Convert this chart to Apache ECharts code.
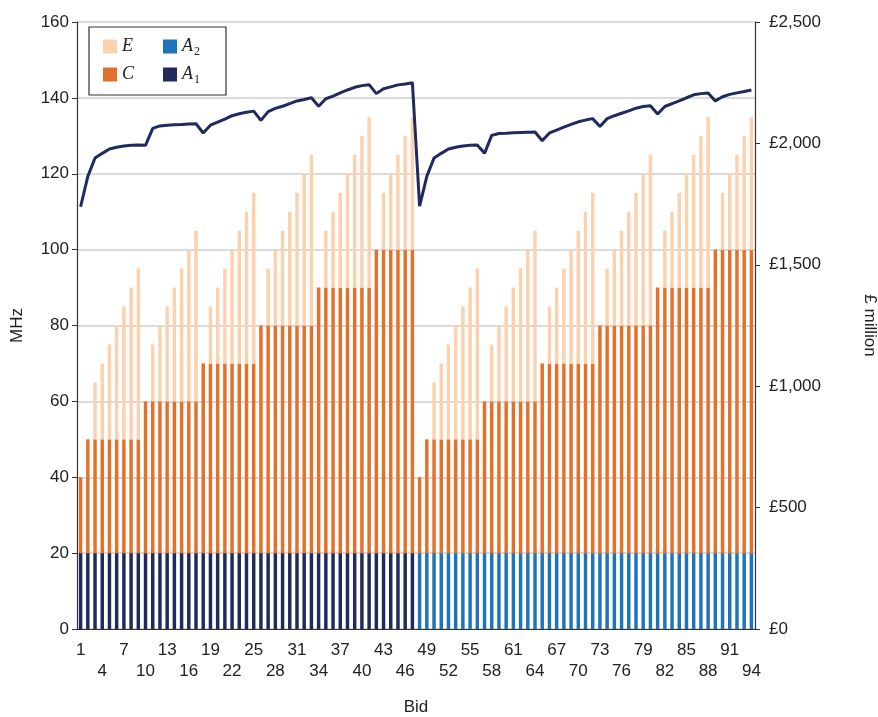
<!DOCTYPE html>
<html>
<head>
<meta charset="utf-8">
<script src="https://cdn.jsdelivr.net/npm/echarts@6/dist/echarts.min.js"></script>
<style>
    html, body { margin: 0; padding: 0; background: #fff; }
    #chart { width: 878px; height: 717px; }
</style>
</head>
<body>
<div id="chart"></div>
<script>
    // bids 1-47 use A1, bids 48-94 use A2
    const a1Values = [20,20,20,20,20,20,20,20,20,20,20,20,20,20,20,20,20,20,20,20,20,20,20,20,20,20,20,20,20,20,20,20,20,20,20,20,20,20,20,20,20,20,20,20,20,20,20]
    const a2Values = [20,20,20,20,20,20,20,20,20,20,20,20,20,20,20,20,20,20,20,20,20,20,20,20,20,20,20,20,20,20,20,20,20,20,20,20,20,20,20,20,20,20,20,20,20,20,20]
    const cValues = [
        20, 30,30,30,30,30,30,30,30, 40,40,40,40,40,40,40,40, 50,50,50,50,50,50,50,50,
        60,60,60,60,60,60,60,60, 70,70,70,70,70,70,70,70, 80,80,80,80,80,80,
        20, 30,30,30,30,30,30,30,30, 40,40,40,40,40,40,40,40, 50,50,50,50,50,50,50,50,
        60,60,60,60,60,60,60,60, 70,70,70,70,70,70,70,70, 80,80,80,80,80,80
    ]
    const eValues = [
        0, 0,15,20,25,30,35,40,45, 0,15,20,25,30,35,40,45, 0,15,20,25,30,35,40,45,
        0,15,20,25,30,35,40,45, 0,15,20,25,30,35,40,45, 0,15,20,25,30,35,
        0, 0,15,20,25,30,35,40,45, 0,15,20,25,30,35,40,45, 0,15,20,25,30,35,40,45,
        0,15,20,25,30,35,40,45, 0,15,20,25,30,35,40,45, 0,15,20,25,30,35
    ]
    // £ million
    const costValues = [
        1739,1864,1940,1959,1977,1984,1989,1992,1993,1992,
        2062,2072,2075,2077,2078,2080,2081,
        2043,2075,2088,2100,2114,2122,2128,2133,
        2095,2131,2144,2153,2164,2175,2181,2188,
        2153,2184,2195,2208,2220,2231,2238,2242,
        2205,2225,2233,2241,2245,2250,
        1742,1864,1940,1959,1977,1984,1989,1992,1993,
        1959,2033,2041,2042,2044,2045,2046,2047,
        2011,2043,2055,2067,2078,2089,2096,2102,
        2070,2102,2114,2124,2134,2145,2152,2155,
        2121,2152,2164,2175,2188,2200,2205,2208,
        2175,2192,2202,2208,2214,2220
    ]
    const bids = []
    for (let i = 1; i <= cValues.length; i++) bids.push(String(i))

    const a1Data = a1Values.concat(a2Values.map(() => '-'))
    const a2Data = a1Values.map(() => '-').concat(a2Values)

    const colE = '#fcd2ae', colC = '#e4702a', colA2 = '#1e74bb', colA1 = '#1f2a5e'
    const txt = '#222'
    const font = 'Liberation Sans, Arial, sans-serif'

    let myChart = echarts.init(document.getElementById('chart'))
    let option = {
        animation: false,
        textStyle: { fontFamily: font },
        grid: { left: 77, right: 123, top: 22, bottom: 88, outerBoundsMode: 'none', containLabel: false },
        legend: {
            data: ['E', 'A2', 'C', 'A1'],
            left: 89, top: 27,
            width: 121,
            orient: 'horizontal',
            itemWidth: 14, itemHeight: 14, itemGap: 5,
            icon: 'rect',
            selectedMode: false,
            borderColor: '#333', borderWidth: 1.2,
            padding: [8, 8, 9, 14],
            formatter: function (name) {
                if (name.length > 1) return '{i|' + name[0] + '}{s|' + name.slice(1) + '}'
                return '{i|' + name + '}'
            },
            textStyle: {
                width: 36, lineHeight: 14,
                rich: {
                    i: { fontFamily: 'Liberation Serif, serif', fontStyle: 'italic', fontSize: 18, color: txt, lineHeight: 14 },
                    s: { fontFamily: 'Liberation Serif, serif', fontSize: 12, color: txt, padding: [11, 0, 0, 1], lineHeight: 14 }
                }
            }
        },
        xAxis: {
            type: 'category',
            data: bids,
            name: 'Bid',
            nameLocation: 'middle',
            nameGap: 70,
            nameTextStyle: { fontSize: 17, color: txt },
            axisLine: { lineStyle: { color: '#333', width: 1.2 } },
            axisTick: { interval: 0, length: 4, lineStyle: { color: '#333' } },
            axisLabel: {
                interval: 2,
                margin: 11,
                fontSize: 17,
                color: txt,
                lineHeight: 21,
                formatter: function (v, i) {
                    return (i / 3) % 2 ? '\n' + v : v
                }
            }
        },
        yAxis: [
            {
                type: 'value',
                min: 0, max: 160, interval: 20,
                name: 'MHz',
                nameLocation: 'middle',
                nameGap: 51,
                nameTextStyle: { fontSize: 17, color: txt },
                axisLine: { show: true, lineStyle: { color: '#333', width: 1.2 } },
                axisTick: { show: true, length: 5, lineStyle: { color: '#333' } },
                axisLabel: { fontSize: 17, color: txt, margin: 8 },
                splitLine: { lineStyle: { color: '#cfcfcf', width: 1.5 } }
            },
            {
                type: 'value',
                min: 0, max: 2500, interval: 500,
                name: '£ million',
                nameLocation: 'middle',
                nameGap: 106,
                nameRotate: -90,
                nameTextStyle: { fontSize: 17, color: txt },
                axisLine: { show: true, lineStyle: { color: '#333', width: 1.2 } },
                axisTick: { show: true, length: 5, lineStyle: { color: '#333' } },
                axisLabel: {
                    fontSize: 17, color: txt, margin: 14,
                    formatter: function (v) { return '£' + v.toLocaleString('en-GB') }
                },
                splitLine: { show: false }
            }
        ],
        series: [
            { name: 'A1', type: 'bar', stack: 'mhz', data: a1Data, barWidth: '48%', itemStyle: { color: colA1 } },
            { name: 'A2', type: 'bar', stack: 'mhz', data: a2Data, barWidth: '48%', itemStyle: { color: colA2 } },
            { name: 'C', type: 'bar', stack: 'mhz', data: cValues, barWidth: '48%', itemStyle: { color: colC } },
            { name: 'E', type: 'bar', stack: 'mhz', data: eValues, barWidth: '48%', itemStyle: { color: colE } },
            {
                name: 'cost', type: 'line', yAxisIndex: 1, data: costValues,
                symbol: 'none', z: 5,
                lineStyle: { color: colA1, width: 3 }
            }
        ]
    }
    myChart.setOption(option)
</script>
</body>
</html>
